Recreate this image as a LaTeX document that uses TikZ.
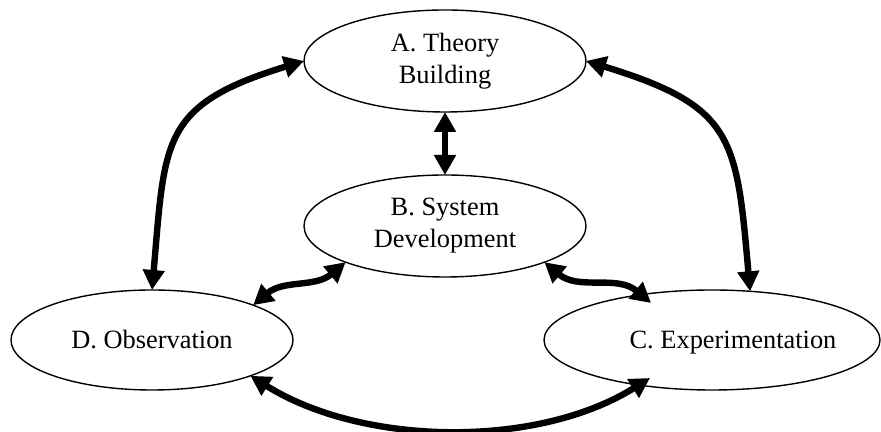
\documentclass[tikz,border=0pt]{standalone}
\usepackage{fontspec}
\setmainfont{Liberation Serif}
\usetikzlibrary{arrows.meta,shapes.geometric,calc}

\begin{document}
\begin{tikzpicture}[
    x=0.5pt, y=0.5pt,
    phase/.style={draw, ellipse, line width=0.7pt, inner sep=0pt, outer sep=0pt, minimum height=51pt, align=center, font=\fontsize{13.2pt}{16pt}\selectfont},
    arr/.style={{Triangle[length=10pt,width=10.5pt]}-{Triangle[length=10pt,width=10.5pt]}, line width=3.2pt}
]
\useasboundingbox (0,0) rectangle (881,432);
\node[phase, minimum width=141pt] (a) at (445,371) {A. Theory\\Building};
\node[phase, minimum width=141pt] (b) at (445,206) {B. System\\Development};
\node[phase, minimum width=168pt, minimum height=50pt] (c) at (712,92) {\makebox[0pt]{\hspace*{21pt}\raisebox{0pt}[\height][0pt]{C. Experimentation}}};
\node[phase, minimum width=141pt, minimum height=50pt] (d) at (152,92) {D. Observation};

\draw[arr] (a.south) -- (b.north);
\draw[arr] (a.west) to[out=197, in=85, looseness=1.4] (d.north);
\draw[arr] (a.east) to[out=-17, in=95, looseness=1.4] (c.52);
\draw[arr] (b.200) to[out=220, in=40] (d.19);
\draw[arr] (b.340) to[out=-40, in=140] ($(c.center)+(-61,37)$);
\draw[arr] (d.-20) to[out=-32, in=212, looseness=0.85] ($(c.center)+(-62,-38)$);
\end{tikzpicture}
\end{document}
